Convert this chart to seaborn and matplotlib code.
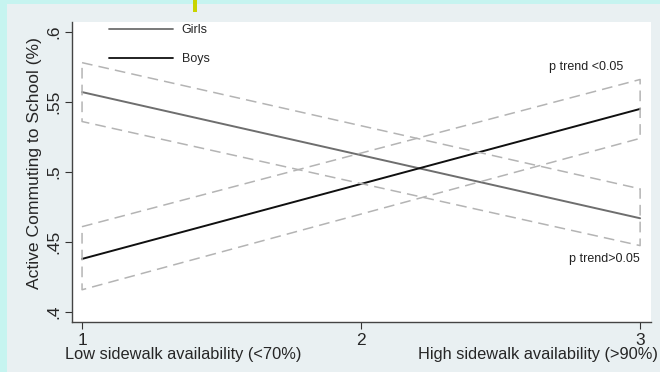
import matplotlib
matplotlib.use("Agg")
import matplotlib.pyplot as plt
import seaborn as sns
import pandas as pd
from matplotlib.patches import Rectangle
from matplotlib.lines import Line2D

# values
x = [1, 3]
girls = [0.557, 0.467]
girls_lo = [0.536, 0.4475]
girls_hi = [0.578, 0.488]
boys = [0.438, 0.545]
boys_lo = [0.416, 0.524]
boys_hi = [0.461, 0.566]
yticks = [0.4, 0.45, 0.5, 0.55, 0.6]
yticklabels = [".4", ".45", ".5", ".55", ".6"]
xticks = [1, 2, 3]

sns.set_style("white")
plt.rcParams["font.family"] = ["Liberation Sans", "DejaVu Sans"]

fig = plt.figure(figsize=(6.6, 3.72), dpi=100)
fig.patch.set_facecolor("#c6f4f0")
# grey graph region like Stata
fig.patches.append(Rectangle((7 / 660, 0), 1, 1 - 4 / 372, transform=fig.transFigure,
                             facecolor="#e9f0f2", edgecolor="none", zorder=-1))
fig.patches.append(Rectangle((193 / 660, 1 - 12 / 372), 4 / 660, 12 / 372,
                             transform=fig.transFigure, facecolor="#c8d400",
                             edgecolor="none", zorder=0))

ax = fig.add_axes([72 / 660, 50 / 372, 579 / 660, 300 / 372])
ax.set_facecolor("white")

df = pd.DataFrame({"x": x * 2, "y": girls + boys,
                   "group": ["Girls"] * 2 + ["Boys"] * 2})
sns.lineplot(data=df, x="x", y="y", hue="group", palette={"Girls": "#6e6e6e", "Boys": "#101010"},
             ax=ax, linewidth=1.4, legend=False)

# confidence bands drawn as dashed outlines
for lo, hi in [(girls_lo, girls_hi), (boys_lo, boys_hi)]:
    bx = x + x[::-1] + [x[0]]
    by = hi + lo[::-1] + [hi[0]]
    ax.plot(bx, by, color="#b4b4b4", linewidth=1.1, dashes=(7, 4))

handles = [Line2D([], [], color="#6e6e6e", linewidth=1.3),
           Line2D([], [], color="#101010", linewidth=1.3)]
ax.legend(handles, ["Girls", "Boys"], loc="upper left", bbox_to_anchor=(0.045, 1.03),
          frameon=False, fontsize=9, handlelength=5.1, labelspacing=1.35, handletextpad=0.7)

ax.text(2.94, 0.575, "p trend <0.05", ha="right", va="center", fontsize=9, color="#222222")
ax.text(3.0, 0.438, "p trend>0.05", ha="right", va="center", fontsize=9, color="#222222")

ax.set_xlim(0.964, 3.039)
ax.set_ylim(0.393, 0.607)
ax.set_yticks(yticks)
ax.set_yticklabels(yticklabels, rotation=90, va="center", fontsize=12.5)
ax.set_xticks(xticks)
ax.set_xticklabels([str(t) for t in xticks], fontsize=12.5)
ax.tick_params(axis="both", length=5, width=0.8, color="#333333", direction="out", pad=3,
               left=True, bottom=True)
ax.set_ylabel("Active Commuting to School (%)", fontsize=12.6)
ax.yaxis.set_label_coords(-0.052, 0.53)
ax.set_xlabel("")
for s in ["top", "right"]:
    ax.spines[s].set_visible(False)
for s in ["left", "bottom"]:
    ax.spines[s].set_color("#444444")
    ax.spines[s].set_linewidth(1.0)

fig.text(65 / 660, 1 - 355 / 372, "Low sidewalk availability (<70%)", ha="left", va="center",
         fontsize=11.8)
fig.text(658 / 660, 1 - 355 / 372, "High sidewalk availability (>90%)", ha="right", va="center",
         fontsize=11.8)

fig.savefig("out.png", dpi=100, facecolor=fig.get_facecolor())
